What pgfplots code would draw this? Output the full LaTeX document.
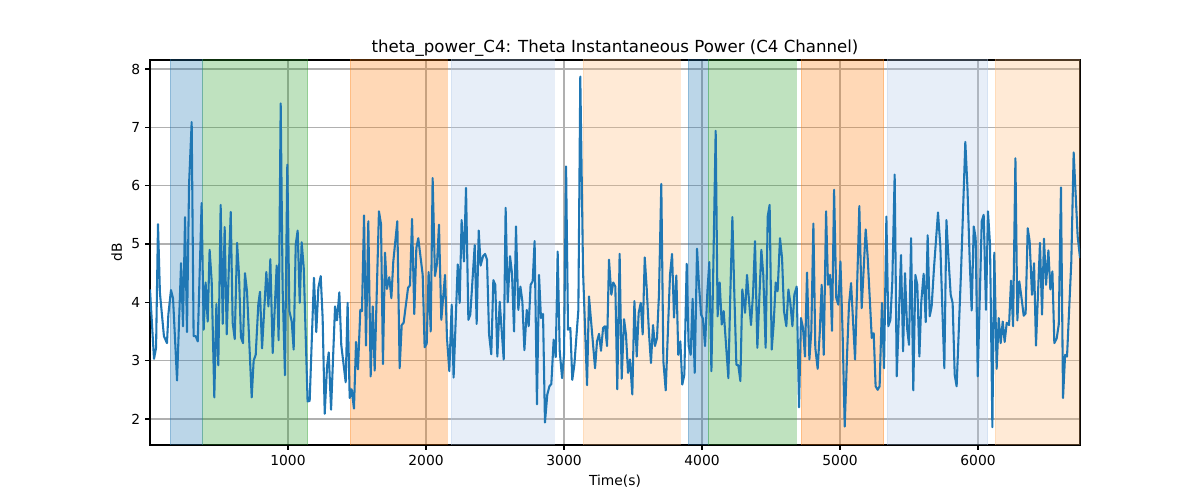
\documentclass[border=0pt]{standalone}
\usepackage{pgfplots}
\pgfplotsset{compat=1.18}
\usepackage{fontspec}
\setmainfont{DejaVu Sans}
\definecolor{tabblue}{HTML}{1F77B4}
\definecolor{tabgreen}{HTML}{2CA02C}
\definecolor{taborange}{HTML}{FF7F0E}
\definecolor{tablblue}{HTML}{AEC7E8}
\definecolor{tablorange}{HTML}{FFBB78}
\definecolor{gridgray}{HTML}{B0B0B0}
\begin{document}
\begin{tikzpicture}
\path[use as bounding box] (-1.5in,-0.55in) rectangle (10.5in,4.45in);
\begin{axis}[
  at={(0,0)}, anchor=south west,
  scale only axis, width=9.3in, height=3.85in,
  xmin=0, xmax=6739, ymin=1.554, ymax=8.154,
  xtick={1000,2000,3000,4000,5000,6000},
  ytick={2,3,4,5,6,7,8},
  xtick pos=left, ytick pos=left,
  tick align=outside,
  major tick length=3.5pt,
  every tick/.style={black, line width=0.8pt},
  scaled x ticks=false,
  x tick label style={/pgf/number format/1000 sep={}},
  /pgf/number format/assume math mode=true,
  tick label style={font=\fontsize{10}{12}\selectfont},
  grid=major,
  major grid style={gridgray, line width=0.8pt},
  axis line style={black, line width=0.8pt},
  title={theta\_power\_C4: Theta Instantaneous Power (C4 Channel)},
  title style={font=\fontsize{12}{14}\selectfont, yshift=-7pt},
  xlabel={Time(s)}, ylabel={dB},
  label style={font=\fontsize{10}{12}\selectfont},
  clip=true,
  span/.style={draw=#1, draw opacity=0.3, fill=#1, fill opacity=0.3, forget plot},
]
\addplot[span=tabblue] coordinates {(145,0) (145,10) (381,10) (381,0)} -- cycle;
\addplot[span=tabgreen] coordinates {(381,0) (381,10) (1143,10) (1143,0)} -- cycle;
\addplot[span=taborange] coordinates {(1449,0) (1449,10) (2152,10) (2152,0)} -- cycle;
\addplot[span=tablblue] coordinates {(2181,0) (2181,10) (2928,10) (2928,0)} -- cycle;
\addplot[span=tablorange] coordinates {(3138,0) (3138,10) (3841,10) (3841,0)} -- cycle;
\addplot[span=tabblue] coordinates {(3899,0) (3899,10) (4044,10) (4044,0)} -- cycle;
\addplot[span=tabgreen] coordinates {(4044,0) (4044,10) (4681,10) (4681,0)} -- cycle;
\addplot[span=taborange] coordinates {(4717,0) (4717,10) (5316,10) (5316,0)} -- cycle;
\addplot[span=tablblue] coordinates {(5343,0) (5343,10) (6070,10) (6070,0)} -- cycle;
\addplot[span=tablorange] coordinates {(6123,0) (6123,10) (6800,10) (6800,0)} -- cycle;
\addplot[tabblue, line width=1.5pt, line join=round, mark=none] coordinates {
(0,4.22) (29,3.03) (44,3.22) (58,5.34) (72,4.16) (101,3.42) (123,3.30) (133,3.79) (152,4.21) (167,4.07) (196,2.66) (225,4.67) (239,3.59) (254,5.46) (268,3.49) (283,6.02) (302,7.09) (316,3.42) (331,3.42) (346,3.33) (374,5.70) (389,3.53) (403,4.34) (418,3.67) (432,4.90) (447,4.36) (466,2.37) (481,3.97) (495,2.92) (512,5.67) (527,3.63) (541,5.29) (556,3.45) (570,4.50) (585,5.55) (599,3.65) (614,3.37) (631,5.02) (645,4.47) (659,3.40) (674,3.30) (688,4.50) (703,4.19) (737,2.37) (751,3.00) (766,3.10) (785,3.97) (797,4.18) (812,3.21) (843,4.52) (858,3.93) (872,4.74) (889,3.13) (918,4.63) (932,3.35) (947,7.41) (961,4.25) (978,2.75) (995,6.36) (1010,3.85) (1027,3.67) (1041,3.19) (1056,4.99) (1070,5.23) (1085,3.99) (1099,5.03)
(1114,4.59) (1142,2.30) (1157,2.31) (1188,4.42) (1205,3.49) (1220,4.25) (1237,4.45) (1251,3.73) (1266,2.09) (1283,2.90) (1295,3.14) (1312,2.16) (1341,3.93) (1355,3.69) (1372,4.17) (1386,3.27) (1418,2.63) (1432,3.99) (1447,2.36) (1461,2.51) (1478,2.18) (1493,3.32) (1507,2.85) (1524,3.87) (1536,3.85) (1551,5.49) (1565,3.26) (1582,5.39) (1599,2.73) (1614,3.93) (1628,2.83) (1659,5.56) (1674,5.34) (1688,2.94) (1703,4.85) (1717,4.23) (1734,4.43) (1749,4.07) (1763,4.70) (1792,5.39) (1809,2.87) (1824,3.61) (1838,3.65) (1870,4.25) (1884,4.29) (1899,5.43) (1915,3.80) (1930,4.93) (1944,5.10) (1976,4.47) (1990,3.23) (2005,3.29) (2019,4.52) (2034,3.50) (2048,6.13) (2065,4.45) (2080,4.67) (2094,5.33) (2111,3.70)
(2138,4.47) (2152,3.39) (2169,2.82) (2186,3.96) (2200,2.71) (2230,4.65) (2244,3.99) (2258,5.41) (2275,4.70) (2290,5.96) (2307,3.70) (2321,3.79) (2353,4.98) (2367,3.63) (2382,5.23) (2396,4.63) (2413,4.79) (2428,4.83) (2442,4.73) (2457,3.45) (2473,3.11) (2488,4.38) (2502,4.30) (2517,3.07) (2534,4.01) (2563,3.02) (2577,5.62) (2592,4.00) (2609,4.79) (2623,4.50) (2638,3.50) (2652,5.30) (2669,3.87) (2684,4.27) (2698,4.02) (2713,3.18) (2730,3.87) (2744,3.59) (2758,4.30) (2773,4.36) (2787,5.05) (2804,2.25) (2819,4.47) (2833,3.73) (2848,3.80) (2862,1.94) (2879,2.42) (2894,2.56) (2908,2.60) (2925,3.36) (2940,3.06) (2954,4.87) (2969,3.16) (2986,2.70) (3000,3.10) (3015,6.33) (3029,3.53) (3046,3.56) (3060,2.67) (3075,2.93) (3104,3.87) (3118,7.87) (3138,4.53) (3167,2.58) (3181,4.10)
(3225,2.87) (3239,3.33) (3254,3.46) (3268,3.17) (3283,3.56) (3297,3.59) (3312,3.25) (3326,4.73) (3343,4.13) (3357,4.34) (3372,4.27) (3386,2.51) (3403,4.83) (3418,2.69) (3435,3.71) (3449,3.45) (3464,2.79) (3478,3.02) (3495,2.42) (3510,4.02) (3527,3.07) (3541,3.82) (3556,3.99) (3570,3.45) (3585,4.77) (3599,4.25) (3616,3.46) (3630,2.96) (3645,3.61) (3659,3.25) (3674,3.39) (3688,4.13) (3705,6.03) (3720,2.99) (3737,2.49) (3768,4.47) (3783,4.83) (3797,3.74) (3814,4.46) (3828,3.10) (3843,3.33) (3857,2.59) (3872,2.76) (3889,4.66) (3903,3.25) (3918,3.10) (3932,4.06) (3947,2.79) (3964,4.92) (3978,4.30) (3993,3.79) (4007,3.72) (4022,3.25) (4039,4.19) (4053,4.69) (4068,2.82) (4082,4.62) (4099,6.94) (4113,3.76) (4128,4.34) (4143,3.62) (4157,3.85) (4191,2.70) (4205,4.13) (4220,5.46) (4234,4.16) (4249,2.93) (4263,2.92) (4278,2.65) (4292,4.22)
(4312,3.82) (4326,4.47) (4341,4.02) (4355,3.61) (4370,4.16) (4384,5.05) (4401,3.22) (4415,4.05) (4430,4.90) (4444,4.47) (4461,3.22) (4476,5.47) (4490,5.67) (4505,3.19) (4519,3.62) (4534,4.34) (4548,4.19) (4565,5.10) (4580,4.76) (4594,3.85) (4611,3.59) (4626,4.22) (4640,3.99) (4655,3.59) (4669,4.13) (4686,4.27) (4703,2.20) (4717,3.73) (4732,3.56) (4746,3.07) (4761,4.51) (4778,3.02) (4792,3.50) (4807,5.35) (4821,3.22) (4838,2.86) (4853,3.47) (4867,4.30) (4882,3.10) (4899,5.56) (4913,4.30) (4928,4.47) (4942,3.51) (4957,5.93) (4973,4.07) (4988,3.96) (5003,4.70) (5019,3.45) (5034,1.87) (5051,3.10) (5065,3.96) (5080,4.33) (5109,3.02) (5140,5.65) (5157,3.90) (5186,5.25) (5200,4.79) (5230,3.39) (5244,3.47) (5258,2.56) (5273,2.50) (5287,2.56) (5304,3.99) (5319,2.87) (5336,5.47) (5350,3.59) (5365,3.70) (5379,4.36) (5396,6.19) (5411,2.73)
(5442,4.81) (5457,3.16) (5471,4.50) (5486,3.56) (5500,3.27) (5515,5.10) (5531,2.49) (5546,4.47) (5560,4.30) (5575,3.07) (5589,4.01) (5606,4.49) (5621,3.66) (5635,5.15) (5650,3.76) (5664,3.93) (5681,4.59) (5710,5.54) (5727,4.96) (5742,3.85) (5756,2.87) (5771,5.41) (5785,4.79) (5802,4.13) (5816,3.99) (5831,2.76) (5845,2.56) (5877,4.53) (5908,6.75) (5923,5.99) (5940,4.70) (5954,3.86) (5969,5.30) (5983,5.10) (5998,2.73) (6027,5.39) (6041,5.50) (6058,3.87) (6072,5.56) (6087,4.99) (6104,1.86) (6118,4.85) (6135,2.86) (6150,3.73) (6164,3.30) (6179,3.67) (6193,3.32) (6208,3.65) (6225,3.61) (6239,4.37) (6254,3.59) (6271,6.47) (6285,3.69) (6299,4.36) (6314,4.10) (6331,3.77) (6345,3.81) (6360,5.27) (6374,5.05) (6391,4.13) (6406,4.67) (6420,3.26) (6449,5.02) (6464,3.79) (6478,5.09) (6493,4.30) (6510,4.89) (6524,4.22) (6539,4.53) (6553,3.30) (6570,3.38) (6585,3.62) (6601,5.97) (6616,2.36) (6631,3.10) (6645,3.07) (6676,4.70) (6693,6.57) (6722,5.13) (6739,4.76)
};
\end{axis}
\end{tikzpicture}
\end{document}
